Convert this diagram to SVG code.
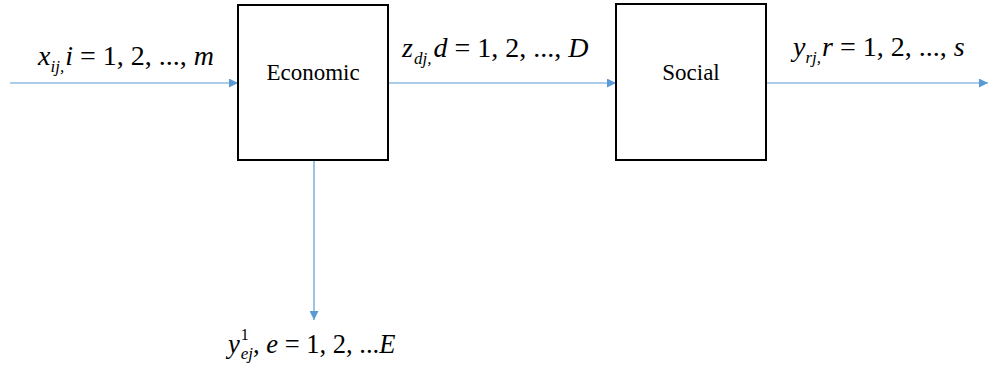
<svg xmlns="http://www.w3.org/2000/svg" width="991" height="366" viewBox="0 0 991 366">
<style>
.box{fill:#fff;stroke:#000;stroke-width:2}
.lbl{font-family:'Liberation Serif','DejaVu Serif','Times New Roman',Times,serif;font-size:23px;fill:#000}
.math{font-family:'Liberation Serif','DejaVu Serif','Times New Roman',Times,serif;font-size:28px;fill:#000}
.i{font-style:italic}
.sub{font-size:17px;font-style:italic}
.conn{stroke:#5b9bd5;stroke-width:1.2;fill:none}
</style>
<defs>
<marker id="ah" viewBox="0 0 10 10" refX="10" refY="5" markerWidth="9" markerHeight="9" markerUnits="userSpaceOnUse" orient="auto">
<path d="M0,0 L10,5 L0,10 z" fill="#5b9bd5"/>
</marker>
</defs>
<g id="connectors">
<line class="conn" x1="10" y1="83" x2="238" y2="83" marker-end="url(#ah)"/>
<line class="conn" x1="388" y1="83" x2="616" y2="83" marker-end="url(#ah)"/>
<line class="conn" x1="766" y1="83" x2="988" y2="83" marker-end="url(#ah)"/>
<line class="conn" x1="314" y1="160" x2="314" y2="320" marker-end="url(#ah)"/>
</g>
<g id="economic">
<rect class="box" x="238" y="5" width="150" height="155"/>
<text class="lbl" x="313" y="80" text-anchor="middle">Economic</text>
</g>
<g id="social">
<rect class="box" x="616" y="4" width="150" height="156"/>
<text class="lbl" x="691" y="80" text-anchor="middle">Social</text>
</g>
<g id="label-x">
<text class="math" x="38" y="65"><tspan class="i">x</tspan><tspan class="sub" dy="7">ij,</tspan><tspan class="i" dy="-7" dx="1">i</tspan> = 1, 2, ..., <tspan class="i">m</tspan></text>
</g>
<g id="label-z">
<text class="math" x="402" y="57"><tspan class="i">z</tspan><tspan class="sub" dy="7" dx="1">dj,</tspan><tspan class="i" dy="-7" dx="2">d</tspan> = 1, 2, ..., <tspan class="i">D</tspan></text>
</g>
<g id="label-y">
<text class="math" x="793" y="56"><tspan class="i">y</tspan><tspan class="sub" dy="7">rj,</tspan><tspan class="i" dy="-7" dx="1">r</tspan> = 1, 2, ..., <tspan class="i">s</tspan></text>
</g>
<g id="label-ye">
<text class="math" x="228" y="353" style="font-size:26.5px"><tspan class="i">y</tspan><tspan style="font-size:16px" dy="-13" dx="1">1</tspan><tspan class="sub" dy="19" dx="-8">ej</tspan><tspan dy="-6">, </tspan><tspan class="i">e</tspan> = 1, 2, ...<tspan class="i">E</tspan></text>
</g>
</svg>
